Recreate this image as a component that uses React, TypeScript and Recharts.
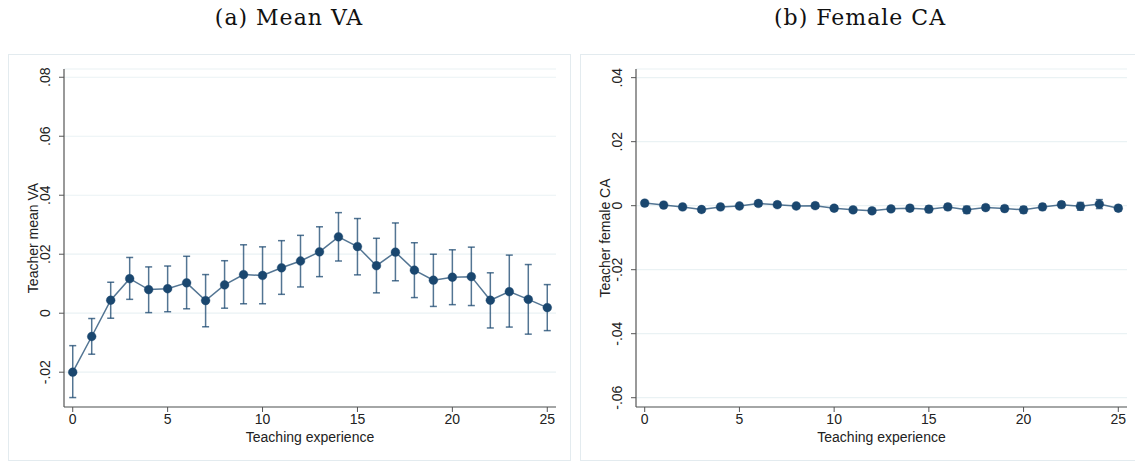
import { ComposedChart, Line, ErrorBar, XAxis, YAxis, CartesianGrid } from 'recharts';

// Teaching experience (years)
const experience = [0, 1, 2, 3, 4, 5, 6, 7, 8, 9, 10, 11, 12, 13, 14, 15, 16, 17, 18, 19, 20, 21, 22, 23, 24, 25];
const xTicks = [0, 5, 10, 15, 20, 25];

// Panel (a): teacher mean VA with 95% CI
const meanVA = [-0.0200, -0.0079, 0.0044, 0.0117, 0.0080, 0.0083, 0.0103, 0.0043, 0.0096, 0.0131, 0.0128, 0.0154, 0.0177, 0.0208, 0.0259, 0.0226, 0.0161, 0.0207, 0.0146, 0.0112, 0.0122, 0.0124, 0.0044, 0.0073, 0.0047, 0.0019];
const meanVALo = [-0.0286, -0.0139, -0.0017, 0.0047, 0.0002, 0.0005, 0.0015, -0.0046, 0.0017, 0.0032, 0.0032, 0.0064, 0.0089, 0.0124, 0.0177, 0.0130, 0.0069, 0.0110, 0.0053, 0.0023, 0.0029, 0.0026, -0.0050, -0.0047, -0.0071, -0.0059];
const meanVAHi = [-0.0110, -0.0018, 0.0105, 0.0189, 0.0157, 0.0160, 0.0193, 0.0131, 0.0178, 0.0232, 0.0225, 0.0246, 0.0264, 0.0293, 0.0341, 0.0321, 0.0254, 0.0306, 0.0239, 0.0200, 0.0215, 0.0224, 0.0137, 0.0197, 0.0165, 0.0097];
const meanVATicks = [-0.02, 0, 0.02, 0.04, 0.06, 0.08];

// Panel (b): teacher female CA with 95% CI
const femaleCA = [0.0008, 0.0002, -0.0004, -0.0012, -0.0004, -0.0001, 0.0007, 0.0003, -0.0001, 0.0000, -0.0008, -0.0013, -0.0016, -0.0010, -0.0008, -0.0011, -0.0004, -0.0013, -0.0006, -0.0009, -0.0013, -0.0004, 0.0003, -0.0002, 0.0005, -0.0008];
const femaleCALo = [0.0000, -0.0006, -0.0012, -0.0020, -0.0012, -0.0009, -0.0001, -0.0005, -0.0009, -0.0008, -0.0016, -0.0021, -0.0024, -0.0018, -0.0017, -0.0021, -0.0013, -0.0024, -0.0014, -0.0018, -0.0023, -0.0013, -0.0006, -0.0014, -0.0009, -0.0017];
const femaleCAHi = [0.0016, 0.0010, 0.0004, -0.0004, 0.0004, 0.0007, 0.0015, 0.0011, 0.0007, 0.0008, 0.0000, -0.0005, -0.0008, -0.0002, 0.0001, -0.0001, 0.0005, -0.0002, 0.0002, 0.0000, -0.0003, 0.0005, 0.0012, 0.0010, 0.0019, 0.0001];
const femaleCATicks = [-0.06, -0.04, -0.02, 0, 0.02, 0.04];

const NAVY = '#1a476f';
const AXIS = '#555';
const GRID = '#eaf2f4';
const SANS = '"Liberation Sans", Arial, sans-serif';

// Stata-style labels: .02, -.02, 0
const fmt = (v: number) => {
  if (Math.abs(v) < 1e-9) return '0';
  return (v < 0 ? '-' : '') + Math.abs(v).toFixed(2).replace(/^0/, '');
};

const build = (mean: number[], lo: number[], hi: number[]) =>
  experience.map((x, i) => ({ x, y: mean[i], err: [mean[i] - lo[i], hi[i] - mean[i]] }));

const YTick = (props: any) => {
  const { x, y, payload } = props;
  const bx = x - 7;
  return (
    <text x={bx} y={y} transform={`rotate(-90, ${bx}, ${y})`} textAnchor="middle" fill="#222" fontSize={14} fontFamily={SANS}>
      {fmt(payload.value)}
    </text>
  );
};

interface PanelProps {
  left: number;
  width: number;
  yWidth: number;
  right: number;
  data: { x: number; y: number; err: number[] }[];
  domain: [number, number];
  ticks: number[];
  yLabel: string;
}

function Panel({ left, width, yWidth, right, data, domain, ticks, yLabel }: PanelProps) {
  const height = 405;
  const top = 14;
  const xH = 53;
  const plotMidY = top + (height - top - xH) / 2;
  return (
    <div style={{ position: 'absolute', left, top: 55 }}>
      <ComposedChart width={width} height={height} data={data} margin={{ top, right, left: 0, bottom: 0 }}>
        <CartesianGrid horizontal vertical={false} stroke={GRID} strokeWidth={1.2} />
        <XAxis
          dataKey="x"
          type="number"
          domain={[-0.46, 25.46]}
          ticks={xTicks}
          allowDataOverflow
          height={xH}
          tickSize={5}
          tick={{ fill: '#222', fontSize: 14, fontFamily: SANS }}
          axisLine={{ stroke: AXIS, strokeWidth: 1.2 }}
          tickLine={{ stroke: AXIS }}
          label={(p: any) => {
            const vb = p.viewBox;
            return (
              <text x={vb.x + vb.width / 2} y={vb.y + 35} textAnchor="middle" fill="#222" fontSize={14} fontFamily={SANS}>
                Teaching experience
              </text>
            );
          }}
        />
        <YAxis
          type="number"
          domain={domain}
          ticks={ticks}
          allowDataOverflow
          width={yWidth}
          tickSize={5}
          tick={<YTick />}
          axisLine={{ stroke: AXIS, strokeWidth: 1.2 }}
          tickLine={{ stroke: AXIS }}
          label={() => (
            <text x={yWidth - 26} y={plotMidY} transform={`rotate(-90, ${yWidth - 26}, ${plotMidY})`} textAnchor="middle" fill="#222" fontSize={14} fontFamily={SANS}>
              {yLabel}
            </text>
          )}
        />
        <Line
          dataKey="y"
          stroke={NAVY}
          strokeOpacity={0.75}
          strokeWidth={1.5}
          dot={{ r: 4.4, fill: NAVY, stroke: NAVY, strokeWidth: 0.5 }}
          activeDot={false}
          isAnimationActive={false}
        >
          <ErrorBar dataKey="err" width={3.5} stroke={NAVY} strokeOpacity={0.75} strokeWidth={1.5} />
        </Line>
      </ComposedChart>
    </div>
  );
}

export default function App() {
  const titleStyle = {
    position: 'absolute' as const,
    top: 5,
    fontFamily: '"DejaVu Serif", serif',
    fontSize: 22,
    letterSpacing: 1,
    color: '#111',
    transform: 'translateX(-50%)',
    whiteSpace: 'nowrap' as const,
  };
  const frame = {
    position: 'absolute' as const,
    top: 54,
    height: 405,
    border: '1px solid #e3ebef',
  };
  return (
    <div style={{ position: 'relative', width: 1135, height: 462, background: '#fff', overflow: 'hidden' }}>
      <style>{'body{margin:0;overflow:hidden}'}</style>
      <div style={{ ...titleStyle, left: 289 }}>(a) Mean VA</div>
      <div style={{ ...titleStyle, left: 860 }}>(b) Female CA</div>
      <div style={{ ...frame, left: 8, width: 561 }} />
      <div style={{ ...frame, left: 580, width: 560 }} />
      <Panel
        left={8}
        width={560}
        yWidth={56}
        right={12}
        data={build(meanVA, meanVALo, meanVAHi)}
        domain={[-0.0318, 0.0828]}
        ticks={meanVATicks}
        yLabel="Teacher mean VA"
      />
      <Panel
        left={581}
        width={554}
        yWidth={55}
        right={8}
        data={build(femaleCA, femaleCALo, femaleCAHi)}
        domain={[-0.0629, 0.0427]}
        ticks={femaleCATicks}
        yLabel="Teacher female CA"
      />
    </div>
  );
}
